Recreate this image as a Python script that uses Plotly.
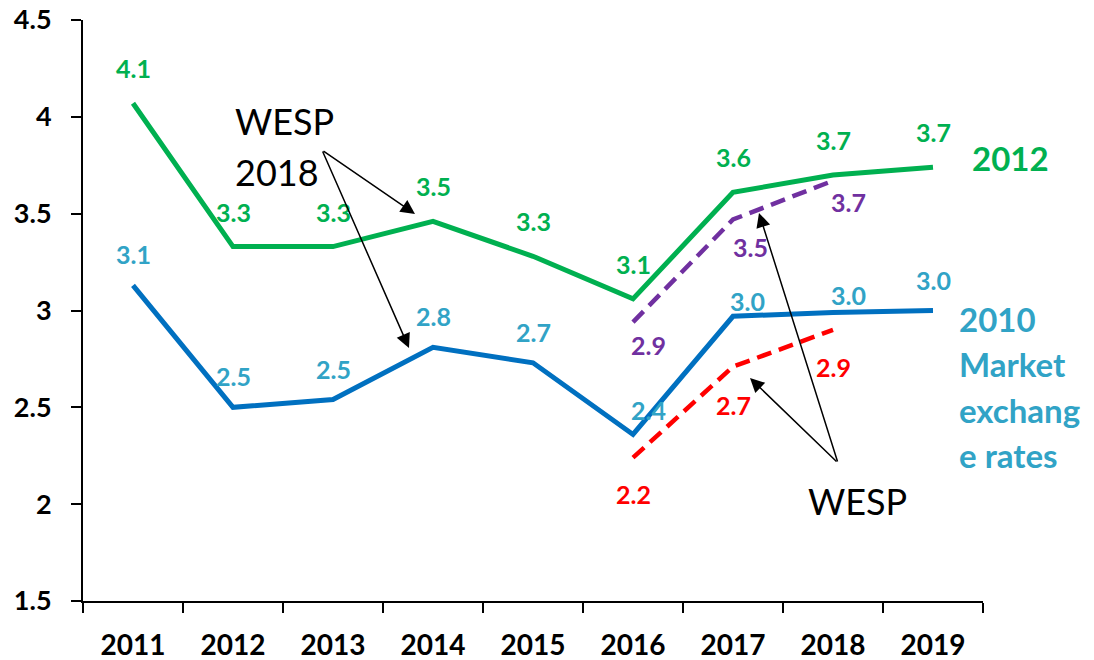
import plotly.graph_objects as go

years = ["2011", "2012", "2013", "2014", "2015", "2016", "2017", "2018", "2019"]
ppp_2012 = [4.07, 3.33, 3.33, 3.46, 3.28, 3.06, 3.61, 3.70, 3.74]
mer_2010 = [3.13, 2.50, 2.54, 2.81, 2.73, 2.36, 2.97, 2.99, 3.00]
wesp_years = ["2016", "2017", "2018"]
wesp_2012 = [2.94, 3.47, 3.67]
wesp_2010 = [2.24, 2.71, 2.90]
y_ticks = [1.5, 2, 2.5, 3, 3.5, 4, 4.5]

GREEN = "#00b050"
BLUE = "#0070c0"
TEAL = "#31a3c6"
PURPLE = "#7030a0"
RED = "#ff0000"
FONT = "Lato"

FIG_W, FIG_H = 1094, 660
# plot area geometry in pixels
L, T, W, H = 83, 20, 900, 581


def px(x):
    return (x - L) / W


def py(y):
    return (T + H - y) / H


fig = go.Figure()
fig.add_trace(go.Scatter(x=years, y=ppp_2012, mode="lines",
                         line=dict(color=GREEN, width=5), name="2012"))
fig.add_trace(go.Scatter(x=years, y=mer_2010, mode="lines",
                         line=dict(color=BLUE, width=5), name="2010"))
fig.add_trace(go.Scatter(x=wesp_years, y=wesp_2012, mode="lines",
                         line=dict(color=PURPLE, width=4.5, dash="15px,8px"),
                         name="WESP 2012"))
fig.add_trace(go.Scatter(x=wesp_years, y=wesp_2010, mode="lines",
                         line=dict(color=RED, width=4.5, dash="15px,8px"),
                         name="WESP 2010"))

annotations = []


def add_labels(xs, vals, color, yshifts, xshifts):
    for x, v, dy, dx in zip(xs, vals, yshifts, xshifts):
        annotations.append(dict(
            x=years.index(x), y=v, xref="x", yref="y", text=f"{v:.1f}",
            showarrow=False, yshift=dy, xshift=dx,
            font=dict(family=FONT, size=25, color=color, weight="bold")))


add_labels(years, ppp_2012, GREEN, [35] * 9, [0] * 9)
add_labels(years, mer_2010, TEAL, [31, 31, 31, 31, 31, 24, 15, 17, 31],
           [0, 0, 0, 0, 0, 15, 14, 15, 0])
add_labels(wesp_years, wesp_2012, PURPLE, [-23, -28, -21], [15, 17, 15])
add_labels(wesp_years, wesp_2010, RED, [-36, -38, -37], [0, 0, 0])


def text(x, y, s, size, color, bold=False):
    annotations.append(dict(
        x=px(x), y=py(y), xref="paper", yref="paper", text=s, showarrow=False,
        xanchor="left", yanchor="middle",
        font=dict(family=FONT, size=size, color=color,
                  weight="bold" if bold else "normal")))


text(233, 121, "WESP", 36, "black")
text(233, 172, "2018", 36, "black")
text(806, 501, "WESP", 36, "black")
text(970, 158, "2012", 33, GREEN, True)
text(957, 319, "2010", 33, TEAL, True)
text(957, 364, "Market", 33, TEAL, True)
text(957, 410, "exchang", 33, TEAL, True)
text(957, 455, "e rates", 33, TEAL, True)


def arrow(tail, tip):
    annotations.append(dict(
        x=px(tip[0]), y=py(tip[1]), xref="paper", yref="paper",
        ax=tail[0] - tip[0], ay=tail[1] - tip[1], axref="pixel", ayref="pixel",
        text="", showarrow=True, arrowhead=2, arrowsize=1.9, arrowwidth=1.5,
        arrowcolor="black", standoff=0, startstandoff=0, font=dict(size=1)))


arrow((322, 150), (415, 214))
arrow((322, 150), (409, 348))
arrow((838, 463), (750, 378))
arrow((838, 463), (759, 213))

fig.update_layout(
    width=FIG_W, height=FIG_H,
    margin=dict(l=L, r=FIG_W - L - W, t=T, b=FIG_H - T - H, autoexpand=False),
    paper_bgcolor="white", plot_bgcolor="white",
    showlegend=False,
    annotations=annotations,
    xaxis=dict(
        type="category", range=[-0.5, 8.5], showgrid=False, zeroline=False,
        showline=True, linecolor="black", linewidth=2, automargin=False,
        ticks="outside", tickson="boundaries", ticklen=10, tickwidth=2,
        tickcolor="black", ticklabelstandoff=18,
        tickfont=dict(family=FONT, size=28, color="black", weight="bold")),
    yaxis=dict(
        range=[1.5, 4.5], tickvals=y_ticks, showgrid=False, zeroline=False,
        showline=True, linecolor="black", linewidth=2, automargin=False,
        ticks="outside", ticklen=10, tickwidth=2, tickcolor="black",
        ticklabelstandoff=14,
        tickfont=dict(family=FONT, size=27, color="black", weight="bold")),
)

fig.write_html("out.html",
               config={"displayModeBar": False},
               post_script="document.body.style.margin='0';"
                           "document.body.style.overflow='hidden';")
